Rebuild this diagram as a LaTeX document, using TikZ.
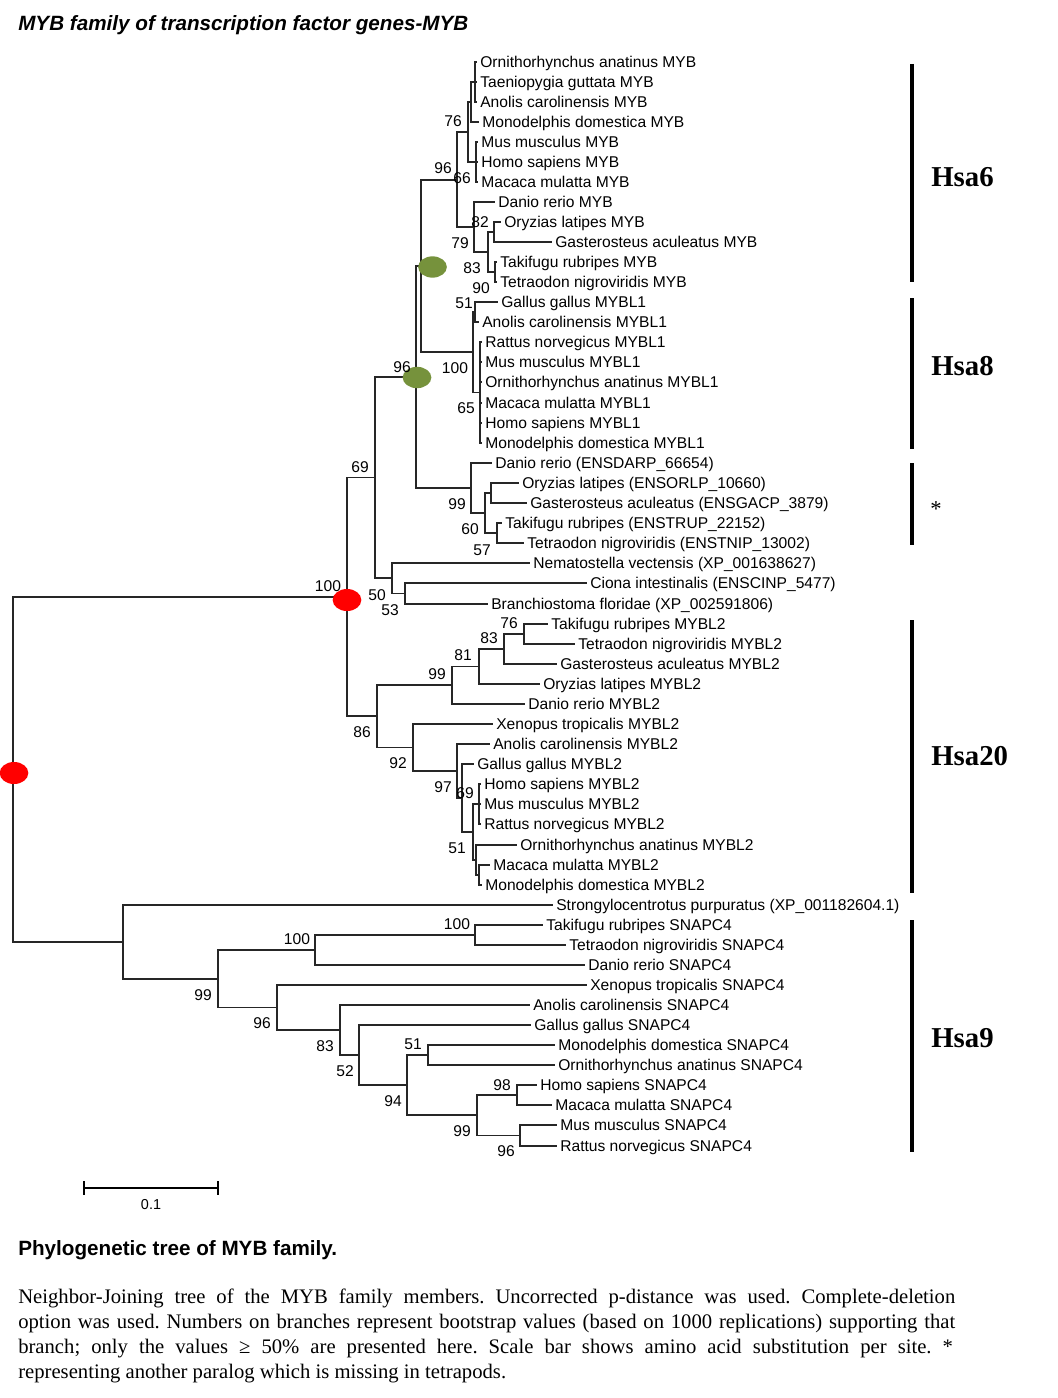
\documentclass[tikz,border=0pt]{standalone}
\usepackage{fontspec}
\setmainfont{Liberation Serif}
\setsansfont{Liberation Sans}
\usetikzlibrary{shapes.geometric}
\definecolor{dotgreen}{RGB}{118,146,60}
\definecolor{dotred}{RGB}{255,0,0}
\frenchspacing
\tikzset{
  branch/.style={line width=1.25pt, black!85},
  leaf/.style={anchor=west, inner xsep=2.3pt, inner ysep=0pt, text height=8.4pt, text depth=0pt,
    font=\sffamily\fontsize{11.7}{13}\selectfont},
  boot/.style={inner sep=0pt, text height=8.4pt, text depth=0pt,
    font=\sffamily\fontsize{11.7}{13}\selectfont},
  greendot/.style={ellipse, fill=dotgreen, inner sep=0pt, minimum width=21.5pt, minimum height=16pt},
  reddot/.style={ellipse, fill=dotred, inner sep=0pt, minimum width=21.5pt, minimum height=16.5pt},
  bracket/.style={line width=2.3pt},
  hsa/.style={anchor=west, inner sep=0pt, text height=14.3pt, text depth=0pt,
    font=\fontsize{21.6}{24}\selectfont\bfseries},
  captionline/.style={anchor=west, inner sep=0pt, text height=10.3pt, text depth=0pt,
    font=\fontsize{15.5}{18}\selectfont}
}
\begin{document}
\begin{tikzpicture}[x=0.75pt, y=-0.75pt]
\useasboundingbox[fill=white] (0,0) rectangle (1057,1398);

\node[anchor=west, inner sep=0pt, text height=11.1pt, text depth=0pt,
  font=\sffamily\bfseries\itshape\fontsize{15.5}{18}\selectfont] (title) at (18,23)
  {MYB family of transcription factor genes-MYB};

% leaves
\node[leaf] (L1) at (477,62) {Ornithorhynchus anatinus MYB};
\node[leaf] (L2) at (477,82) {Taeniopygia guttata MYB};
\node[leaf] (L3) at (477,102) {Anolis carolinensis MYB};
\node[leaf] (L4) at (479,122) {Monodelphis domestica MYB};
\node[leaf] (L5) at (478,142) {Mus musculus MYB};
\node[leaf] (L6) at (478,162) {Homo sapiens MYB};
\node[leaf] (L7) at (478,182) {Macaca mulatta MYB};
\node[leaf] (L8) at (495,202) {Danio rerio MYB};
\node[leaf] (L9) at (501,222) {Oryzias latipes MYB};
\node[leaf] (L10) at (552,242) {Gasterosteus aculeatus MYB};
\node[leaf] (L11) at (497,262) {Takifugu rubripes MYB};
\node[leaf] (L12) at (497,282) {Tetraodon nigroviridis MYB};
\node[leaf] (L13) at (498,302) {Gallus gallus MYBL1};
\node[leaf] (L14) at (479,322) {Anolis carolinensis MYBL1};
\node[leaf] (L15) at (482,342) {Rattus norvegicus MYBL1};
\node[leaf] (L16) at (482,362) {Mus musculus MYBL1};
\node[leaf] (L17) at (482,382) {Ornithorhynchus anatinus MYBL1};
\node[leaf] (L18) at (482,403) {Macaca mulatta MYBL1};
\node[leaf] (L19) at (482,423) {Homo sapiens MYBL1};
\node[leaf] (L20) at (482,443) {Monodelphis domestica MYBL1};
\node[leaf] (L21) at (492,463) {Danio rerio (ENSDARP\_66654)};
\node[leaf] (L22) at (519,483) {Oryzias latipes (ENSORLP\_10660)};
\node[leaf] (L23) at (527,503) {Gasterosteus aculeatus (ENSGACP\_3879)};
\node[leaf] (L24) at (502,523) {Takifugu rubripes (ENSTRUP\_22152)};
\node[leaf] (L25) at (524,543) {Tetraodon nigroviridis (ENSTNIP\_13002)};
\node[leaf] (L26) at (530,563) {Nematostella vectensis (XP\_001638627)};
\node[leaf] (L27) at (587,583) {Ciona intestinalis (ENSCINP\_5477)};
\node[leaf] (L28) at (488,604) {Branchiostoma floridae (XP\_002591806)};
\node[leaf] (L29) at (548,624) {Takifugu rubripes MYBL2};
\node[leaf] (L30) at (575,644) {Tetraodon nigroviridis MYBL2};
\node[leaf] (L31) at (557,664) {Gasterosteus aculeatus MYBL2};
\node[leaf] (L32) at (540,684) {Oryzias latipes MYBL2};
\node[leaf] (L33) at (525,704) {Danio rerio MYBL2};
\node[leaf] (L34) at (493,724) {Xenopus tropicalis MYBL2};
\node[leaf] (L35) at (490,744) {Anolis carolinensis MYBL2};
\node[leaf] (L36) at (474,764) {Gallus gallus MYBL2};
\node[leaf] (L37) at (481,784) {Homo sapiens MYBL2};
\node[leaf] (L38) at (481,804) {Mus musculus MYBL2};
\node[leaf] (L39) at (481,824) {Rattus norvegicus MYBL2};
\node[leaf] (L40) at (517,845) {Ornithorhynchus anatinus MYBL2};
\node[leaf] (L41) at (490,865) {Macaca mulatta MYBL2};
\node[leaf] (L42) at (482,885) {Monodelphis domestica MYBL2};
\node[leaf] (L43) at (553,905) {Strongylocentrotus purpuratus (XP\_001182604.1)};
\node[leaf] (L44) at (543,925) {Takifugu rubripes SNAPC4};
\node[leaf] (L45) at (566,945) {Tetraodon nigroviridis SNAPC4};
\node[leaf] (L46) at (585,965) {Danio rerio SNAPC4};
\node[leaf] (L47) at (587,985) {Xenopus tropicalis SNAPC4};
\node[leaf] (L48) at (530,1005) {Anolis carolinensis SNAPC4};
\node[leaf] (L49) at (531,1025) {Gallus gallus SNAPC4};
\node[leaf] (L50) at (555,1045) {Monodelphis domestica SNAPC4};
\node[leaf] (L51) at (555,1065) {Ornithorhynchus anatinus SNAPC4};
\node[leaf] (L52) at (537,1085) {Homo sapiens SNAPC4};
\node[leaf] (L53) at (552,1105) {Macaca mulatta SNAPC4};
\node[leaf] (L54) at (557,1125) {Mus musculus SNAPC4};
\node[leaf] (L55) at (557,1146) {Rattus norvegicus SNAPC4};

% inner nodes
\coordinate (a1) at (475,82);
\coordinate (a2) at (471,102);
\coordinate (a4) at (476,162);
\coordinate (a3) at (468,132);
\coordinate (f3) at (494,232);
\coordinate (f4) at (495,272);
\coordinate (f2) at (488,252);
\coordinate (f1) at (474,227);
\coordinate (n96a) at (457,180);
\coordinate (m2) at (475,312);
\coordinate (m3) at (480,392.5);
\coordinate (m1) at (473,352);
\coordinate (nG) at (421,266);
\coordinate (s3) at (491,493);
\coordinate (s4) at (497,533);
\coordinate (s2) at (485,513);
\coordinate (s1) at (471,488);
\coordinate (nG2) at (416,377);
\coordinate (n53) at (405,593.5);
\coordinate (n50) at (392,578);
\coordinate (n69) at (375,477.5);
\coordinate (n76) at (524,634);
\coordinate (n83) at (504,649);
\coordinate (n81) at (479,666.5);
\coordinate (n99) at (452,685);
\coordinate (mam) at (479,804);
\coordinate (ny) at (479,875);
\coordinate (nx) at (476,860);
\coordinate (n51b) at (473,832);
\coordinate (n69b) at (462,798);
\coordinate (n97) at (457,771);
\coordinate (n92) at (413,747.5);
\coordinate (n86) at (377,716);
\coordinate (n100) at (347,597);
\coordinate (q100) at (475,935);
\coordinate (q100b) at (315,950);
\coordinate (q98) at (517,1095);
\coordinate (q96) at (520,1135.5);
\coordinate (q99) at (477,1115);
\coordinate (q51) at (428,1055);
\coordinate (q94) at (407,1085);
\coordinate (q52) at (359,1055);
\coordinate (q83) at (340,1030);
\coordinate (q96b) at (277,1007.5);
\coordinate (q99b) at (218,979);
\coordinate (qS) at (123,942);
\coordinate (root) at (13,769.5);

% branches
\draw[branch] (a1) |- (L1.west) (a1) |- (L2.west) (a1) |- (L3.west);
\draw[branch] (a2) |- (a1) (a2) |- (L4.west);
\draw[branch] (a4) |- (L5.west) (a4) |- (L6.west) (a4) |- (L7.west);
\draw[branch] (a3) |- (a2) (a3) |- (a4);
\draw[branch] (f3) |- (L9.west) (f3) |- (L10.west);
\draw[branch] (f4) |- (L11.west) (f4) |- (L12.west);
\draw[branch] (f2) |- (f3) (f2) |- (f4);
\draw[branch] (f1) |- (L8.west) (f1) |- (f2);
\draw[branch] (n96a) |- (a3) (n96a) |- (f1);
\draw[branch] (m2) |- (L13.west) (m2) |- (L14.west);
\draw[branch] (m3) |- (L15.west) (m3) |- (L16.west) (m3) |- (L17.west)
  (m3) |- (L18.west) (m3) |- (L19.west) (m3) |- (L20.west);
\draw[branch] (m1) |- (m2) (m1) |- (m3);
\draw[branch] (nG) |- (n96a) (nG) |- (m1);
\draw[branch] (s3) |- (L22.west) (s3) |- (L23.west);
\draw[branch] (s4) |- (L24.west) (s4) |- (L25.west);
\draw[branch] (s2) |- (s3) (s2) |- (s4);
\draw[branch] (s1) |- (L21.west) (s1) |- (s2);
\draw[branch] (nG2) |- (nG) (nG2) |- (s1);
\draw[branch] (n53) |- (L27.west) (n53) |- (L28.west);
\draw[branch] (n50) |- (L26.west) (n50) |- (n53);
\draw[branch] (n69) |- (nG2) (n69) |- (n50);
\draw[branch] (n76) |- (L29.west) (n76) |- (L30.west);
\draw[branch] (n83) |- (n76) (n83) |- (L31.west);
\draw[branch] (n81) |- (n83) (n81) |- (L32.west);
\draw[branch] (n99) |- (n81) (n99) |- (L33.west);
\draw[branch] (mam) |- (L37.west) (mam) |- (L38.west) (mam) |- (L39.west);
\draw[branch] (ny) |- (L41.west) (ny) |- (L42.west);
\draw[branch] (nx) |- (L40.west) (nx) |- (ny);
\draw[branch] (n51b) |- (mam) (n51b) |- (nx);
\draw[branch] (n69b) |- (L36.west) (n69b) |- (n51b);
\draw[branch] (n97) |- (L35.west) (n97) |- (n69b);
\draw[branch] (n92) |- (L34.west) (n92) |- (n97);
\draw[branch] (n86) |- (n99) (n86) |- (n92);
\draw[branch] (n100) |- (n69) (n100) |- (n86);
\draw[branch] (q100) |- (L44.west) (q100) |- (L45.west);
\draw[branch] (q100b) |- (q100) (q100b) |- (L46.west);
\draw[branch] (q98) |- (L52.west) (q98) |- (L53.west);
\draw[branch] (q96) |- (L54.west) (q96) |- (L55.west);
\draw[branch] (q99) |- (q98) (q99) |- (q96);
\draw[branch] (q51) |- (L50.west) (q51) |- (L51.west);
\draw[branch] (q94) |- (q51) (q94) |- (q99);
\draw[branch] (q52) |- (L49.west) (q52) |- (q94);
\draw[branch] (q83) |- (L48.west) (q83) |- (q52);
\draw[branch] (q96b) |- (L47.west) (q96b) |- (q83);
\draw[branch] (q99b) |- (q100b) (q99b) |- (q96b);
\draw[branch] (qS) |- (L43.west) (qS) |- (q99b);
\draw[branch] (root) |- (n100) (root) |- (qS);

% duplication marks
\node[greendot] (g1) at (432.5,267) {};
\node[greendot] (g2) at (417,377.5) {};
\node[reddot] (r1) at (347,600) {};
\node[reddot] (r2) at (14,773) {};

% bootstrap values
\node[boot] (b1) at (453,121) {76};
\node[boot] (b2) at (443,168) {96};
\node[boot] (b3) at (462,178) {66};
\node[boot] (b4) at (480,222) {82};
\node[boot] (b5) at (460,243) {79};
\node[boot] (b6) at (472,268) {83};
\node[boot] (b7) at (481,288) {90};
\node[boot] (b8) at (464,303) {51};
\node[boot] (b9) at (402,367) {96};
\node[boot] (b10) at (455,368) {100};
\node[boot] (b11) at (466,408) {65};
\node[boot] (b12) at (360,467) {69};
\node[boot] (b13) at (457,504) {99};
\node[boot] (b14) at (470,529) {60};
\node[boot] (b15) at (482,550) {57};
\node[boot] (b16) at (328,586) {100};
\node[boot] (b17) at (377,595) {50};
\node[boot] (b18) at (390,610) {53};
\node[boot] (b19) at (509,623) {76};
\node[boot] (b20) at (489,638) {83};
\node[boot] (b21) at (463,655) {81};
\node[boot] (b22) at (437,674) {99};
\node[boot] (b23) at (362,732) {86};
\node[boot] (b24) at (398,763) {92};
\node[boot] (b25) at (443,787) {97};
\node[boot] (b26) at (465,793) {69};
\node[boot] (b27) at (457,848) {51};
\node[boot] (b28) at (457,924) {100};
\node[boot] (b29) at (297,939) {100};
\node[boot] (b30) at (203,995) {99};
\node[boot] (b31) at (262,1023) {96};
\node[boot] (b32) at (325,1046) {83};
\node[boot] (b33) at (345,1071) {52};
\node[boot] (b34) at (413,1044) {51};
\node[boot] (b35) at (393,1101) {94};
\node[boot] (b36) at (502,1085) {98};
\node[boot] (b37) at (462,1131) {99};
\node[boot] (b38) at (506,1151) {96};

% chromosome brackets
\draw[bracket] (912,64) -- (912,282);
\draw[bracket] (912,298) -- (912,449);
\draw[bracket] (912,463) -- (912,545);
\draw[bracket] (912,620) -- (912,893);
\draw[bracket] (912,920) -- (912,1152);
\node[hsa] (h6) at (931,177) {Hsa6};
\node[hsa] (h8) at (931,366) {Hsa8};
\node[hsa, font=\fontsize{17}{20}\selectfont] (hstar) at (930,507) {*};
\node[hsa] (h20) at (931,756) {Hsa20};
\node[hsa] (h9) at (931,1038) {Hsa9};

% scale bar
\draw[line width=2.2pt] (84,1181) -- (84,1195) (84,1188) -- (218,1188) (218,1181) -- (218,1195);
\node[inner sep=0pt, text height=7.7pt, text depth=0pt,
  font=\sffamily\fontsize{10.8}{12}\selectfont] (scale) at (151,1204) {0.1};

% caption
\node[anchor=west, inner sep=0pt, text height=11.1pt, text depth=0pt,
  font=\sffamily\bfseries\fontsize{15.5}{18}\selectfont] (head) at (18,1248)
  {Phylogenetic tree of MYB family.};
\node[captionline] (c1) at (18,1297) {\makebox[702.75pt][s]{Neighbor-Joining tree of the MYB family members. Uncorrected p-distance was used. Complete-deletion}};
\node[captionline] (c2) at (18,1322) {\makebox[702.75pt][s]{option was used. Numbers on branches represent bootstrap values (based on 1000 replications) supporting that}};
\node[captionline] (c3) at (18,1347) {\makebox[701pt][s]{branch; only the values ≥ 50\% are presented here. Scale bar shows amino acid substitution per site. *}};
\node[captionline] (c4) at (18,1372) {representing another paralog which is missing in tetrapods.};
\end{tikzpicture}
\end{document}
